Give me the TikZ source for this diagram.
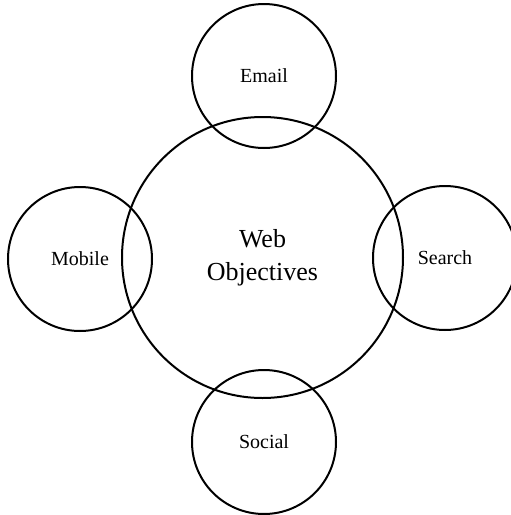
\documentclass[tikz,border=0pt]{standalone}
\usepackage{fontspec}
\setmainfont{Liberation Serif}
\usepackage{tikz}
\tikzset{
	hub/.style={circle,draw,line width=2pt,minimum size=281pt,inner sep=0pt,align=center,font=\fontsize{26}{33}\selectfont},
	sat/.style={circle,draw,line width=2pt,minimum size=144pt,inner sep=0pt,font=\fontsize{20}{24}\selectfont}
}

\begin{document}
\begin{tikzpicture}[x=1pt,y=-1pt]
	\useasboundingbox (0,0) rectangle (511,515);
	\node [hub] (web) at (262.5,257.5) {Web\\Objectives};
	\node [sat] (email) at (264,76) {Email};
	\node [sat] (mobile) at (80,259) {Mobile};
	\node [sat] (search) at (445,258) {Search};
	\node [sat] (social) at (264,442) {Social};
\end{tikzpicture}
\end{document}
